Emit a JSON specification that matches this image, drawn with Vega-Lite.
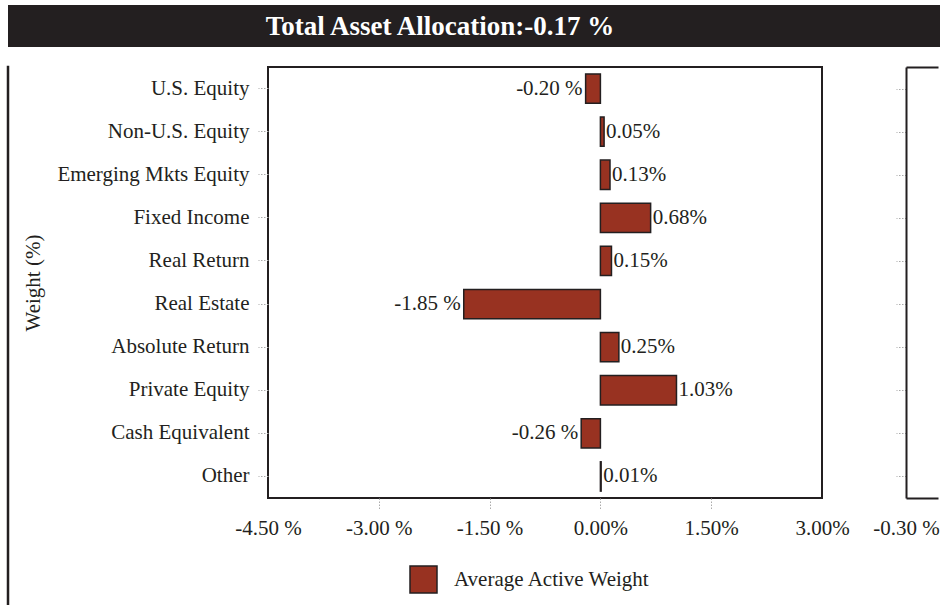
{
  "$schema": "https://vega.github.io/schema/vega-lite/v6.json",
  "padding": {"left": 6, "top": 5, "right": 0, "bottom": 0},
  "autosize": {"type": "pad"},
  "background": "white",
  "spacing": 0,
  "datasets": {
    "weights": [
      {"asset": "U.S. Equity", "weight": -0.20, "label": "-0.20 %", "series": "Average Active Weight"},
      {"asset": "Non-U.S. Equity", "weight": 0.05, "label": "0.05%", "series": "Average Active Weight"},
      {"asset": "Emerging Mkts Equity", "weight": 0.13, "label": "0.13%", "series": "Average Active Weight"},
      {"asset": "Fixed Income", "weight": 0.68, "label": "0.68%", "series": "Average Active Weight"},
      {"asset": "Real Return", "weight": 0.15, "label": "0.15%", "series": "Average Active Weight"},
      {"asset": "Real Estate", "weight": -1.85, "label": "-1.85 %", "series": "Average Active Weight"},
      {"asset": "Absolute Return", "weight": 0.25, "label": "0.25%", "series": "Average Active Weight"},
      {"asset": "Private Equity", "weight": 1.03, "label": "1.03%", "series": "Average Active Weight"},
      {"asset": "Cash Equivalent", "weight": -0.26, "label": "-0.26 %", "series": "Average Active Weight"},
      {"asset": "Other", "weight": 0.01, "label": "0.01%", "series": "Average Active Weight"}
    ],
    "header": [{"title": "Total Asset Allocation:-0.17 %"}]
  },
  "config": {
    "font": "Liberation Serif",
    "view": {"stroke": null},
    "axis": {"labelColor": "#231f20", "titleColor": "#231f20", "labelFont": "Liberation Serif", "titleFont": "Liberation Serif", "grid": false, "labelLimit": 400}
  },
  "vconcat": [
    {
      "width": 934,
      "height": 42,
      "view": {"fill": "#231f20", "stroke": null},
      "data": {"name": "header"},
      "mark": {"type": "text", "color": "white", "fontSize": 27, "fontWeight": "bold", "baseline": "middle", "align": "center", "dx": -35, "dy": 1},
      "encoding": {"text": {"field": "title"}}
    },
    {
      "spacing": 11,
      "hconcat": [
        {
          "width": 0.01,
          "height": 555,
          "view": {"stroke": "#231f20", "strokeWidth": 2.5},
          "data": {"name": "header"},
          "mark": {"type": "point", "opacity": 0, "size": 0, "strokeWidth": 0},
          "encoding": {}
        },
        {
          "spacing": 21,
          "hconcat": [
            {
              "width": 554,
              "height": 431,
              "title": {"text": " ", "fontSize": 10, "offset": 9},
              "view": {"stroke": "#231f20", "strokeWidth": 2},
              "data": {"name": "weights"},
              "encoding": {
                "y": {
                  "field": "asset", "type": "nominal", "sort": null,
                  "scale": {"paddingInner": 0.32, "paddingOuter": 0.16},
                  "axis": {"title": "Weight (%)", "titleFontSize": 21, "titleFontWeight": "normal", "titlePadding": 25,
                           "labelFontSize": 21, "labelPadding": 9, "tickSize": 10, "tickColor": "#aaaaaa",
                           "tickDash": [1.5, 1.5], "tickWidth": 1, "domain": false}
                }
              },
              "layer": [
                {
                  "mark": {"type": "bar", "stroke": "#231f20", "strokeWidth": 1.5},
                  "encoding": {
                    "x": {
                      "field": "weight", "type": "quantitative",
                      "scale": {"domain": [-4.5, 3], "nice": false, "zero": false},
                      "axis": {
                        "title": null, "values": [-4.5, -3, -1.5, 0, 1.5, 3],
                        "labelExpr": "datum.value < 0 ? '-' + format(abs(datum.value), '.2f') + ' %' : format(datum.value, '.2f') + '%'",
                        "labelFontSize": 21, "labelPadding": 7, "tickSize": 12,
                        "tickColor": {"condition": {"test": "datum.value === -4.5 || datum.value === 3", "value": "transparent"}, "value": "#aaaaaa"},
                        "tickDash": [1.5, 1.5], "domain": false, "labelFlush": false, "labelOverlap": false, "labelBound": false
                      }
                    },
                    "color": {
                      "field": "series", "type": "nominal",
                      "scale": {"range": ["#983221"]},
                      "legend": {"title": null, "orient": "none", "legendX": 401, "legendY": 560, "padding": 0,
                                 "symbolType": "square", "symbolSize": 729, "symbolStrokeColor": "#231f20", "symbolStrokeWidth": 1.5,
                                 "labelFontSize": 21, "labelFont": "Liberation Serif", "labelColor": "#231f20", "labelOffset": 16, "labelLimit": 400}
                    }
                  }
                },
                {
                  "mark": {"type": "rule", "color": "#231f20", "strokeWidth": 1.5},
                  "encoding": {"x": {"datum": 0, "type": "quantitative"}}
                },
                {
                  "transform": [{"filter": "datum.weight >= 0"}],
                  "mark": {"type": "text", "align": "left", "baseline": "middle", "dx": 2, "fontSize": 21, "color": "#231f20"},
                  "encoding": {"x": {"field": "weight", "type": "quantitative"}, "text": {"field": "label"}}
                },
                {
                  "transform": [{"filter": "datum.weight < 0"}],
                  "mark": {"type": "text", "align": "right", "baseline": "middle", "dx": -3, "fontSize": 21, "color": "#231f20"},
                  "encoding": {"x": {"field": "weight", "type": "quantitative"}, "text": {"field": "label"}}
                }
              ]
            },
            {
              "width": 32,
              "height": 431,
              "title": {"text": " ", "fontSize": 10, "offset": 9},
              "data": {"name": "weights"},
              "encoding": {
                "y": {
                  "field": "asset", "type": "nominal", "sort": null,
                  "scale": {"paddingInner": 0.32, "paddingOuter": 0.16},
                  "axis": {"title": null, "labels": false, "tickSize": 10, "tickColor": "#aaaaaa", "tickDash": [1.5, 1.5],
                           "domain": true, "domainColor": "#231f20", "domainWidth": 2}
                }
              },
              "layer": [
                {
                  "mark": {"type": "point", "opacity": 0, "size": 0, "strokeWidth": 0},
                  "encoding": {
                    "x": {
                      "datum": -0.3, "type": "quantitative",
                      "scale": {"domain": [-0.3, 0], "nice": false, "zero": false},
                      "axis": {"orient": "bottom", "title": null, "values": [-0.3],
                               "labelExpr": "datum.value < 0 ? '-' + format(abs(datum.value), '.2f') + ' %' : format(datum.value, '.2f') + '%'",
                               "labelFontSize": 21, "labelPadding": 7, "tickSize": 12, "tickColor": "transparent",
                               "domainColor": "#231f20", "domainWidth": 2, "labelFlush": false, "labelOverlap": false, "labelBound": false}
                    }
                  }
                },
                {
                  "mark": {"type": "point", "opacity": 0, "size": 0, "strokeWidth": 0},
                  "encoding": {
                    "x": {
                      "datum": -0.3, "type": "quantitative",
                      "axis": {"orient": "top", "title": null, "labels": false, "ticks": false,
                               "domainColor": "#231f20", "domainWidth": 2}
                    }
                  }
                }
              ],
              "resolve": {"axis": {"x": "independent"}}
            }
          ]
        }
      ]
    }
  ]
}
